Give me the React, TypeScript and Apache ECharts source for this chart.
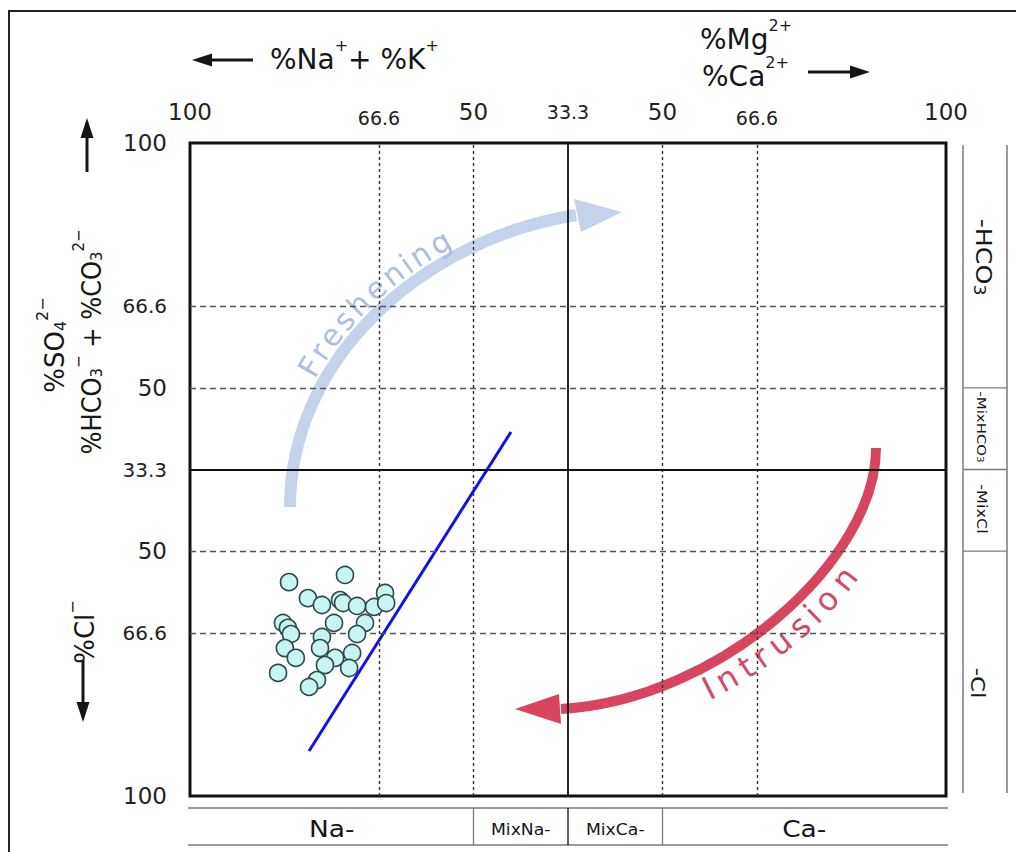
import React, { useEffect, useRef } from "react";
import * as echarts from "echarts";

// ---------- data ----------
const xTickValues = [-100, -50, -25, 0, 25, 50, 100];
const xTickLabels = ["100", "66.6", "50", "33.3", "50", "66.6", "100"];
const yTickValues = [-100, -50, -25, 0, 25, 50, 100];
const yTickLabels = ["100", "66.6", "50", "33.3", "50", "66.6", "100"];
const dashedX = [-50, -25, 25, 50];
const dashedY = [-50, -25, 25, 50];
const centerLines = [0];

const sampleX = [-73.8, -59.0, -68.8, -65.1, -60.3, -59.5, -55.8, -51.3, -48.4, -48.1, -75.4, -74.1, -73.3, -61.9, -53.7, -55.8, -65.1, -65.6, -74.9, -72.0, -61.6, -64.3, -57.1, -57.9, -76.7, -66.4, -68.5];
const sampleY = [-34.5, -32.3, -39.4, -41.5, -40.0, -40.9, -41.8, -42.1, -37.8, -40.9, -47.0, -48.5, -50.4, -47.0, -47.0, -50.4, -51.3, -54.7, -54.7, -57.7, -57.7, -59.9, -56.2, -60.8, -62.3, -64.5, -66.6];

const trendX = [-68.5, -15.1];
const trendY = [-86.2, 11.5];

const cationClasses = ["Na-", "MixNa-", "MixCa-", "Ca-"];
const anionClasses = ["-HCO3", "-MixHCO3", "-MixCl", "-Cl"];

const FONT = '"DejaVu Sans", "Noto Sans", sans-serif';
const INK = "#161616";

type P = [number, number];

function bez(p: P[], t: number): P {
  const u = 1 - t;
  const a = u * u * u, b = 3 * u * u * t, c = 3 * u * t * t, d = t * t * t;
  return [a * p[0][0] + b * p[1][0] + c * p[2][0] + d * p[3][0], a * p[0][1] + b * p[1][1] + c * p[2][1] + d * p[3][1]];
}
function bezD(p: P[], t: number): P {
  const u = 1 - t;
  return [
    3 * u * u * (p[1][0] - p[0][0]) + 6 * u * t * (p[2][0] - p[1][0]) + 3 * t * t * (p[3][0] - p[2][0]),
    3 * u * u * (p[1][1] - p[0][1]) + 6 * u * t * (p[2][1] - p[1][1]) + 3 * t * t * (p[3][1] - p[2][1]),
  ];
}

let measureCtx: CanvasRenderingContext2D | null = null;
function measure(ch: string, size: number): number {
  if (!measureCtx) measureCtx = document.createElement("canvas").getContext("2d");
  if (!measureCtx) return size * 0.6;
  measureCtx.font = `${size}px "DejaVu Sans"`;
  return measureCtx.measureText(ch).width;
}

function curveText(p: P[], text: string, tA: number, tB: number, offset: number, fontSize: number, color: string) {
  const N = 400;
  const pts: P[] = [];
  const lens: number[] = [];
  let acc = 0;
  for (let i = 0; i <= N; i++) {
    const t = i / N;
    const b = bez(p, t);
    const d = bezD(p, t);
    const l = Math.hypot(d[0], d[1]) || 1;
    const T: P = [d[0] / l, d[1] / l];
    const up: P = [T[1], -T[0]];
    const q: P = [b[0] + offset * up[0], b[1] + offset * up[1]];
    if (i > 0) acc += Math.hypot(q[0] - pts[i - 1][0], q[1] - pts[i - 1][1]);
    pts.push(q);
    lens.push(acc);
  }
  const sA = lens[Math.round(tA * N)];
  const sB = lens[Math.round(tB * N)];
  const chars = text.split("");
  const w = chars.map((c) => measure(c, fontSize));
  const centers: number[] = [];
  let run = 0;
  w.forEach((wi) => {
    centers.push(run + wi / 2);
    run += wi;
  });
  const c0 = centers[0];
  const cn = centers[centers.length - 1];
  return chars.map((ch, i) => {
    const s = sA + ((centers[i] - c0) / (cn - c0)) * (sB - sA);
    let k = 1;
    while (k < N && lens[k] < s) k++;
    const f = (s - lens[k - 1]) / ((lens[k] - lens[k - 1]) || 1);
    const x = pts[k - 1][0] + f * (pts[k][0] - pts[k - 1][0]);
    const y = pts[k - 1][1] + f * (pts[k][1] - pts[k - 1][1]);
    const a = pts[Math.max(0, k - 3)];
    const b = pts[Math.min(N, k + 2)];
    const rot = Math.atan2(-(b[1] - a[1]), b[0] - a[0]);
    return {
      type: "text",
      x,
      y,
      rotation: rot,
      z: 1,
      silent: true,
      style: {
        text: ch,
        fill: color,
        fontSize,
        fontFamily: FONT,
        align: "center",
        verticalAlign: "middle",
      },
    };
  });
}

function richSet(main: number, small: number, lh: number, supLh?: number) {
  return {
    b: { fontSize: main, fontFamily: FONT, fill: INK, color: INK, lineHeight: lh, verticalAlign: "bottom" },
    sup: { fontSize: small, fontFamily: FONT, fill: INK, color: INK, lineHeight: supLh || small, verticalAlign: "top" },
    sub: { fontSize: small, fontFamily: FONT, fill: INK, color: INK, lineHeight: small, verticalAlign: "bottom" },
  };
}

function chemRich(t: string) {
  const m = t.match(/^(.*?)(\d?)$/);
  if (!m) return `{b|${t}}`;
  return `{b|${m[1]}}` + (m[2] ? `{sub|${m[2]}}` : "");
}

function richText(x: number, y: number, text: string, rich: any, rotation = 0, align = "center", scaleX = 1) {
  return {
    type: "text",
    x,
    y,
    rotation,
    scaleX,
    z: 10,
    silent: true,
    style: {
      text,
      rich,
      fill: INK,
      fontFamily: FONT,
      align,
      verticalAlign: "middle",
    },
  };
}

function arrow(x1: number, y1: number, x2: number, y2: number, head = 20, half = 6.5, width = 3) {
  const dx = x2 - x1, dy = y2 - y1;
  const l = Math.hypot(dx, dy);
  const ux = dx / l, uy = dy / l;
  const bx = x2 - ux * head, by = y2 - uy * head;
  return [
    { type: "line", z: 10, silent: true, shape: { x1, y1, x2: bx, y2: by }, style: { stroke: INK, lineWidth: width } },
    {
      type: "polygon",
      z: 10,
      silent: true,
      shape: { points: [[x2, y2], [bx - uy * half, by + ux * half], [bx + uy * half, by - ux * half]] },
      style: { fill: INK },
    },
  ];
}

function buildGraphics(px: (x: number, y: number) => number[]) {
  const [xl, yt] = px(-100, 100);
  const [xr, yb] = px(100, -100);
  const [xc, yc] = px(0, 0);
  const xm = px(-25, 0)[0];
  const xp = px(25, 0)[0];
  const yp = px(0, 25)[1];
  const ym = px(0, -25)[1];
  const els: any[] = [];

  // outer frame
  els.push({ type: "rect", z: 0, silent: true, shape: { x: 9, y: 11, width: 1300, height: 1100 }, style: { fill: "none", stroke: "#222", lineWidth: 2 } });

  // Freshening arrow
  const fresh: P[] = [[290, 507], [290, 360], [420, 240], [576, 215]];
  const freshColor = "#c4d2ea";
  els.push({
    type: "bezierCurve", z: 1, silent: true,
    shape: { x1: fresh[0][0], y1: fresh[0][1], cpx1: fresh[1][0], cpy1: fresh[1][1], cpx2: fresh[2][0], cpy2: fresh[2][1], x2: fresh[3][0], y2: fresh[3][1] },
    style: { stroke: freshColor, lineWidth: 12, fill: "none" },
  });
  els.push({ type: "polygon", z: 1, silent: true, shape: { points: [[622, 212], [574, 199], [581, 232]] }, style: { fill: freshColor } });
  els.push(...curveText(fresh, "Freshening", 0.32, 0.71, 19, 30, "#adbfdc"));

  // Intrusion arrow
  const intr: P[] = [[876, 448], [876, 560], [720, 700], [561, 709]];
  const intrColor = "#d8455f";
  els.push({
    type: "bezierCurve", z: 1, silent: true,
    shape: { x1: intr[0][0], y1: intr[0][1], cpx1: intr[1][0], cpy1: intr[1][1], cpx2: intr[2][0], cpy2: intr[2][1], x2: intr[3][0], y2: intr[3][1] },
    style: { stroke: intrColor, lineWidth: 10, fill: "none" },
  });
  els.push({ type: "polygon", z: 1, silent: true, shape: { points: [[515, 709], [559, 694], [561, 724]] }, style: { fill: intrColor } });
  const intrRev: P[] = [intr[3], intr[2], intr[1], intr[0]];
  els.push(...curveText(intrRev, "Intrusion", 0.3, 0.66, -21, 32, "#d24b66"));

  // bottom class strip
  const sTop = yb + 12, sBot = yb + 49;
  const gray = "#7a7a7a";
  els.push({ type: "line", z: 10, silent: true, shape: { x1: xl - 2, y1: sTop, x2: xr + 2, y2: sTop }, style: { stroke: gray, lineWidth: 1.5 } });
  els.push({ type: "line", z: 10, silent: true, shape: { x1: xl - 2, y1: sBot, x2: xr + 2, y2: sBot }, style: { stroke: gray, lineWidth: 1.5 } });
  [xm, xc, xp].forEach((x, i) =>
    els.push({ type: "line", z: 10, silent: true, shape: { x1: x, y1: sTop, x2: x, y2: sBot }, style: { stroke: i === 1 ? "#111" : gray, lineWidth: 1.3 } })
  );
  const bx = [(xl + xm) / 2, (xm + xc) / 2, (xc + xp) / 2, (xp + xr) / 2];
  const bSize = [23, 15, 15, 23];
  cationClasses.forEach((t, i) =>
    els.push(richText(bx[i], (sTop + sBot) / 2 + 1, `{b|${t}}`, richSet(bSize[i], 12, bSize[i] + 4), 0, "center", 1.15))
  );

  // right class strip
  const rL = xr + 17, rR = xr + 61;
  const rTop = yt + 2, rBot = yb - 3;
  els.push({ type: "line", z: 10, silent: true, shape: { x1: rL, y1: rTop, x2: rL, y2: rBot }, style: { stroke: gray, lineWidth: 1.5 } });
  els.push({ type: "line", z: 10, silent: true, shape: { x1: rR, y1: rTop, x2: rR, y2: rBot }, style: { stroke: gray, lineWidth: 1.5 } });
  [yp, yc, ym].forEach((y) =>
    els.push({ type: "line", z: 10, silent: true, shape: { x1: rL, y1: y, x2: rR, y2: y }, style: { stroke: gray, lineWidth: 1.3 } })
  );
  const ry = [257, 427, 509, 683];
  const rSize = [22, 13, 14, 20];
  const rx = [986, 985, 985, 981];
  anionClasses.forEach((t, i) =>
    els.push(richText(rx[i], ry[i], chemRich(t), richSet(rSize[i], Math.round(rSize[i] * 0.7), rSize[i] + 6), -Math.PI / 2, "center", 1.15))
  );

  // axis titles
  const r28 = richSet(28, 16, 36, 20);
  const r28b = richSet(28, 16, 36, 24);
  els.push(richText(270, 55, "{b|%Na}{sup|+}{b|+ %K}{sup|+}", r28, 0, "left"));
  els.push(...arrow(253, 60, 192, 60));
  els.push(richText(700, 35, "{b|%Mg}{sup|2+}", r28b, 0, "left"));
  els.push(richText(702, 72, "{b|%Ca}{sup|2+}", r28b, 0, "left"));
  els.push(...arrow(808, 72, 870, 72));

  const rL26 = richSet(26, 16, 34, 18);
  els.push(richText(51, 345, "{b|%SO}{sub|4}{sup|2−}", rL26, Math.PI / 2, "center"));
  els.push(richText(88, 342, "{b|%HCO}{sub|3}{sup|−}{b| + %CO}{sub|3}{sup|2−}", rL26, Math.PI / 2, "center", 0.93));
  els.push(...arrow(87, 172, 87, 118));
  els.push(richText(81, 632, "{b|%Cl}{sup|−}", rL26, Math.PI / 2, "center"));
  els.push(...arrow(83, 660, 83, 722));

  return els;
}

function tickFormatter(values: number[], labels: string[]) {
  return (v: number) => {
    const i = values.indexOf(Math.round(v));
    if (i < 0) return "";
    const t = labels[i];
    if (t === "66.6") return `{s|${t}}`;
    if (t === "33.3") return `{m|${t}}`;
    return `{b|${t}}`;
  };
}

export default function App() {
  const ref = useRef<HTMLDivElement>(null);
  useEffect(() => {
    const el = ref.current;
    if (!el) return;
    const chart = echarts.init(el, null, { renderer: "svg" });

    const gridLineData: any[] = [];
    dashedX.forEach((v) => gridLineData.push({ xAxis: v, lineStyle: { color: "#333", width: 1.4, type: [3, 3] } }));
    dashedY.forEach((v) => gridLineData.push({ yAxis: v, lineStyle: { color: "#555", width: 1.4, type: [6, 4] } }));
    centerLines.forEach((v) => {
      gridLineData.push({ xAxis: v, lineStyle: { color: "#111", width: 1.8, type: "solid" } });
      gridLineData.push({ yAxis: v, lineStyle: { color: "#111", width: 1.8, type: "solid" } });
    });

    const option: any = {
      animation: false,
      backgroundColor: "#fff",
      grid: { left: 190, right: 70, top: 143, bottom: 56, show: true, borderColor: "#111", borderWidth: 3, backgroundColor: "transparent" },
      xAxis: {
        type: "value",
        position: "top",
        min: -100,
        max: 100,
        interval: 25,
        axisLine: { show: false },
        axisTick: { show: false },
        splitLine: { show: false },
        axisLabel: {
          margin: 16,
          showMinLabel: true,
          showMaxLabel: true,
          color: "#222",
          fontFamily: FONT,
          formatter: tickFormatter(xTickValues, xTickLabels),
          rich: {
            b: { fontSize: 23, fontFamily: FONT, color: "#222", padding: [0, 0, 4, 0] },
            s: { fontSize: 19, fontFamily: FONT, color: "#222" },
            m: { fontSize: 19, fontFamily: FONT, color: "#222", padding: [0, 0, 6, 0] },
          },
        },
      },
      yAxis: {
        type: "value",
        min: -100,
        max: 100,
        interval: 25,
        axisLine: { show: false },
        axisTick: { show: false },
        splitLine: { show: false },
        axisLabel: {
          margin: 23,
          showMinLabel: true,
          showMaxLabel: true,
          color: "#222",
          fontFamily: FONT,
          formatter: tickFormatter(yTickValues, yTickLabels),
          rich: {
            b: { fontSize: 23, fontFamily: FONT, color: "#222" },
            s: { fontSize: 20, fontFamily: FONT, color: "#222" },
            m: { fontSize: 20, fontFamily: FONT, color: "#222" },
          },
        },
      },
      series: [
        {
          type: "line",
          data: [],
          z: 3,
          silent: true,
          markLine: { silent: true, symbol: ["none", "none"], label: { show: false }, data: gridLineData },
        },
        {
          type: "line",
          data: trendX.map((x, i) => [x, trendY[i]]),
          symbol: "none",
          z: 4,
          lineStyle: { color: "#1212e8", width: 3 },
        },
        {
          type: "scatter",
          data: sampleX.map((x, i) => [x, sampleY[i]]),
          symbol: "circle",
          symbolSize: 17,
          z: 5,
          itemStyle: { color: "#c8f5f4", borderColor: "#2e4a48", borderWidth: 1.6, opacity: 1 },
        },
      ],
    };
    chart.setOption(option);
    const px = (x: number, y: number) => chart.convertToPixel({ gridIndex: 0 }, [x, y]) as number[];
    chart.setOption({ graphic: { elements: buildGraphics(px) } });
    return () => chart.dispose();
  }, []);
  return <div ref={ref} style={{ position: "absolute", left: 0, top: 0, width: 1016, height: 852, background: "#fff" }} />;
}
